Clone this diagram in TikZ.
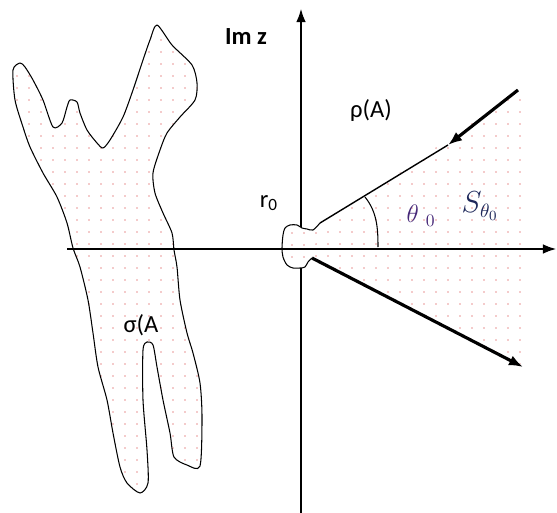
\documentclass[tikz,border=0pt]{standalone}
\usepackage{fontspec}
\setmainfont{Carlito}
\usepackage{tikz}
\usetikzlibrary{arrows.meta,patterns.meta}
\definecolor{dotpink}{RGB}{232,150,150}
\definecolor{thetacol}{RGB}{70,40,120}
\definecolor{scol}{RGB}{30,40,90}
\tikzdeclarepattern{
  name=pinkdots,
  type=uncolored,
  bottom left={(0pt,0pt)},
  top right={(6.8pt,6.8pt)},
  tile size={(6.8pt,6.8pt)},
  code={\fill (3.4pt,3.4pt) circle (0.5pt);}
}

\begin{document}
\begin{tikzpicture}[x=0.02cm,y=-0.02cm,line join=round,
    axis/.style={line width=1.7pt},
    ray/.style={line width=1.8pt},
    outline/.style={line width=0.6pt},
    dotted fill/.style={pattern=pinkdots,pattern color=dotpink},
    lbl/.style={font=\fontsize{14}{16}\selectfont,inner sep=0pt}]
    \useasboundingbox (0,0) rectangle (557,513);
    \coordinate (xl) at (67,249);
    \coordinate (xr) at (557,249);
    \coordinate (yb) at (301,513);
    \coordinate (yt) at (301,8);
    \coordinate (r0top) at (320,223);
    \coordinate (r0bot) at (312,258);
    \coordinate (uend) at (518,90);
    \coordinate (umid) at (448,145);
    \coordinate (lend) at (523,367);
    \fill[dotted fill] (290,249) -- (uend) -- (528,92) -- (528,368) -- cycle;
    \draw[axis,-{Latex[length=8pt,width=5.5pt]}] (yb) -- (yt);
    \fill[preaction={fill=white},dotted fill] plot[smooth,tension=0.5] coordinates {(320,223) (313,230) (307,229) (302,228) (297,225) (290,225) (285,228) (283,235) (282,248) (283,257) (287,265) (293,268) (300,268) (305,267) (308,262) (312,258)} -- cycle;
    \draw[outline] plot[smooth,tension=0.5] coordinates {(320,223) (313,230) (307,229) (302,228) (297,225) (290,225) (285,228) (283,235) (282,248) (283,257) (287,265) (293,268) (300,268) (305,267) (308,262) (312,258)};
    \filldraw[outline,dotted fill] plot[smooth cycle,tension=0.45] coordinates {(157,25) (172,45) (192,65) (197,83) (195,100) (180,117) (167,133) (160,150) (153,173) (155,193) (163,213) (172,233) (174,250) (177,267) (180,300) (187,333) (193,353) (200,383) (202,417) (200,466) (187,465) (174,457) (170,433) (163,400) (157,367) (153,345) (147,342) (143,350) (143,400) (147,450) (148,483) (140,493) (127,483) (120,467) (113,433) (107,400) (98,367) (93,333) (88,300) (80,267) (73,248) (67,223) (57,197) (43,173) (30,147) (23,127) (15,100) (13,70) (20,63) (25,67) (33,80) (43,100) (53,127) (62,123) (67,107) (70,100) (77,102) (80,113) (87,130) (97,143) (103,148) (110,140) (123,117) (133,90) (143,60) (150,40)};
    \draw[axis,-{Latex[length=8pt,width=5.5pt]}] (xl) -- (xr);
    \draw[ray,-{Latex[length=8pt,width=6pt]}] (uend) -- (umid);
    \draw[line width=0.8pt] (umid) -- (r0top);
    \draw[ray,-{Latex[length=8pt,width=6pt]}] (r0bot) -- (lend);
    \draw[outline] (365,197) .. controls (377,212) and (378,228) .. (378,247);
    \node[lbl,font=\fontsize{14}{16}\selectfont\bfseries] (imz) at (246,37) {Im z};
    \node[lbl] (rhoA) at (371,110) {ρ(A)};
    \node[lbl] (rzero) at (269,203) {r\textsubscript{0}};
    \node[lbl,text=thetacol] (theta) at (421,216) {$\theta\;{}_{0}$};
    \node[lbl,text=scol,font=\fontsize{16}{18}\selectfont] (sector) at (480,206) {$S_{\theta_0}$};
    \node[lbl] (sigmaA) at (141,325) {σ(A};
\end{tikzpicture}
\end{document}
